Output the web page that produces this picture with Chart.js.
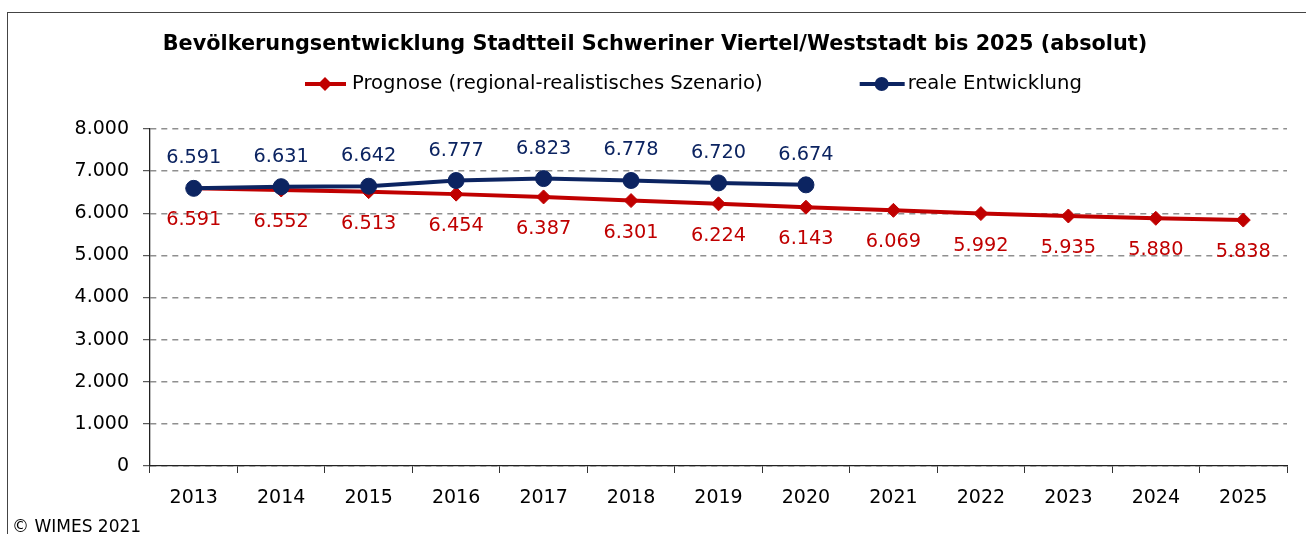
<!DOCTYPE html>
<html lang="de">
<head>
<meta charset="utf-8">
<title>Bevölkerungsentwicklung Schweriner Viertel/Weststadt</title>
<script src="https://cdn.jsdelivr.net/npm/chart.js@4.4.1/dist/chart.umd.min.js"></script>
<style>
  body { margin: 0; background: #fff; overflow: hidden; }
  #wrap { position: relative; width: 1306px; height: 534px; }
  #frame { position: absolute; left: 7px; top: 12px; width: 1320px; height: 540px; border: 1px solid #444; }
  #chart { position: absolute; left: 0; top: 0; }
  #copy { position: absolute; left: 12px; top: 516px; font: 17px "DejaVu Sans", Verdana, sans-serif; color: #000; }
</style>
</head>
<body>
<div id="wrap">
  <div id="frame"></div>
  <canvas id="chart" width="1306" height="534"></canvas>
  <div id="copy">© WIMES 2021</div>
</div>
<script>
// Daten
const years = ['2013', '2014', '2015', '2016', '2017', '2018', '2019', '2020', '2021', '2022', '2023', '2024', '2025'];
const prognose = [6591, 6552, 6513, 6454, 6387, 6301, 6224, 6143, 6069, 5992, 5935, 5880, 5838];
const realeEntwicklung = [6591, 6631, 6642, 6777, 6823, 6778, 6720, 6674, null, null, null, null, null];
const yMin = 0;
const yMax = 8000;
const yStep = 1000;

const titleText = 'Bevölkerungsentwicklung Stadtteil Schweriner Viertel/Weststadt bis 2025 (absolut)';
const labelPrognose = 'Prognose (regional-realistisches Szenario)';
const labelReal = 'reale Entwicklung';

const RED = '#C00000';
const NAVY = '#0C2461';
const FONT = '"DejaVu Sans", Verdana, sans-serif';

// Tausenderpunkt wie in Excel (de-DE)
function fmt(v) {
    return String(v).replace(/\B(?=(\d{3})+(?!\d))/g, '.');
}

// Datenbeschriftungen ober-/unterhalb der Punkte
const valueLabels = {
    id: 'valueLabels',
    afterDatasetsDraw(chart) {
        const ctx = chart.ctx;
        ctx.save();
        ctx.font = '19.3px ' + FONT;
        ctx.textAlign = 'center';
        ctx.textBaseline = 'middle';
        chart.data.datasets.forEach((ds, i) => {
            const meta = chart.getDatasetMeta(i);
            ctx.fillStyle = ds.borderColor;
            meta.data.forEach((pt, j) => {
                const v = ds.data[j];
                if (v === null || v === undefined) return;
                ctx.fillText(fmt(v), pt.x, pt.y + ds.labelOffset);
            });
        });
        ctx.restore();
    }
};

// Titel und Legende (Linie mit Marker wie im Original)
const header = {
    id: 'header',
    afterDraw(chart) {
        const ctx = chart.ctx;
        ctx.save();
        ctx.fillStyle = '#000';
        ctx.textBaseline = 'middle';
        ctx.textAlign = 'center';
        ctx.font = 'bold 20.8px ' + FONT;
        ctx.fillText(titleText, 655, 45);

        ctx.font = '19.6px ' + FONT;
        ctx.textAlign = 'left';
        const ly = 84;

        // Prognose
        ctx.strokeStyle = RED;
        ctx.lineWidth = 4;
        ctx.beginPath();
        ctx.moveTo(305, ly);
        ctx.lineTo(346, ly);
        ctx.stroke();
        ctx.fillStyle = RED;
        ctx.beginPath();
        ctx.moveTo(325, ly - 7);
        ctx.lineTo(332, ly);
        ctx.lineTo(325, ly + 7);
        ctx.lineTo(318, ly);
        ctx.closePath();
        ctx.fill();
        ctx.fillStyle = '#000';
        ctx.fillText(labelPrognose, 352, ly);

        // reale Entwicklung
        const x2 = 352 + ctx.measureText(labelPrognose).width + 97;
        ctx.strokeStyle = NAVY;
        ctx.beginPath();
        ctx.moveTo(x2, ly);
        ctx.lineTo(x2 + 45, ly);
        ctx.stroke();
        ctx.fillStyle = NAVY;
        ctx.beginPath();
        ctx.arc(x2 + 22, ly, 7, 0, Math.PI * 2);
        ctx.fill();
        ctx.fillStyle = '#000';
        ctx.fillText(labelReal, x2 + 48, ly);
        ctx.restore();
    }
};

Chart.defaults.font.family = FONT;
Chart.defaults.font.size = 19;
Chart.defaults.color = '#000';

new Chart(document.getElementById('chart'), {
    type: 'line',
    data: {
        labels: years,
        datasets: [
            {
                label: labelPrognose,
                data: prognose,
                borderColor: RED,
                backgroundColor: RED,
                borderWidth: 4,
                pointStyle: 'rectRot',
                pointRadius: 7,
                pointBorderWidth: 1,
                tension: 0,
                order: 1,
                labelOffset: 32
            },
            {
                label: labelReal,
                data: realeEntwicklung,
                borderColor: NAVY,
                backgroundColor: NAVY,
                borderWidth: 4,
                pointStyle: 'circle',
                pointRadius: 8,
                pointBorderWidth: 1,
                tension: 0,
                spanGaps: false,
                order: 0,
                labelOffset: -30
            }
        ]
    },
    options: {
        responsive: false,
        animation: false,
        layout: { padding: { top: 129, right: 19, bottom: 0, left: 0 } },
        plugins: {
            legend: { display: false },
            title: { display: false },
            tooltip: { enabled: false }
        },
        scales: {
            x: {
                offset: true,
                grid: {
                    offset: true,
                    drawOnChartArea: false,
                    drawTicks: true,
                    tickLength: 7,
                    tickColor: '#333'
                },
                border: { color: '#222', width: 1.3 },
                ticks: { padding: 14, color: '#000', font: { size: 19 } },
                afterFit(scale) { scale.height = 68; }
            },
            y: {
                min: yMin,
                max: yMax,
                ticks: {
                    stepSize: yStep,
                    padding: 14,
                    color: '#000',
                    font: { size: 19 },
                    callback: (v) => fmt(v)
                },
                grid: {
                    color: '#8f8f8f',
                    lineWidth: 1.4,
                    tickLength: 7,
                    tickColor: '#333',
                    tickWidth: 1,
                    tickBorderDash: []
                },
                border: { color: '#222', width: 1.3, dash: [6, 5] },
                afterFit(scale) { scale.width = 150; }
            }
        }
    },
    plugins: [valueLabels, header]
});
</script>
</body>
</html>
